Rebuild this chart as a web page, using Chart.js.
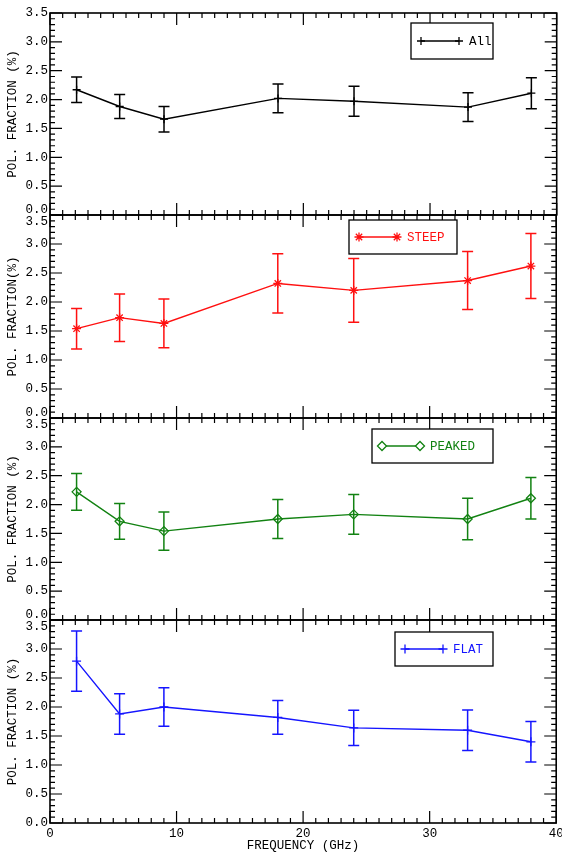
<!DOCTYPE html>
<html>
<head>
<meta charset="utf-8">
<script src="https://cdn.jsdelivr.net/npm/chart.js@4.4.1/dist/chart.umd.min.js"></script>
<style>
  html, body { margin: 0; padding: 0; background: #ffffff; }
  #wrap { position: relative; width: 562px; height: 853px; background: #ffffff; }
  #wrap canvas { position: absolute; left: 0; top: 0; }
</style>
</head>
<body>
<div id="wrap">
  <canvas id="c0" width="562" height="853"></canvas>
  <canvas id="c1" width="562" height="853"></canvas>
  <canvas id="c2" width="562" height="853"></canvas>
  <canvas id="c3" width="562" height="853"></canvas>
</div>
<script>
// ---- data ----
const frequencies = [2.1, 5.5, 9, 18, 24, 33, 38];
const seriesNames = ["All", "STEEP", "PEAKED", "FLAT"];
const allValues    = [2.17, 1.88, 1.66, 2.02, 1.97, 1.87, 2.11];
const allErrors    = [0.22, 0.21, 0.22, 0.25, 0.26, 0.25, 0.27];
const steepValues  = [1.54, 1.73, 1.63, 2.32, 2.20, 2.37, 2.62];
const steepErrors  = [0.35, 0.41, 0.42, 0.51, 0.55, 0.50, 0.56];
const peakedValues = [2.22, 1.71, 1.54, 1.75, 1.83, 1.75, 2.11];
const peakedErrors = [0.32, 0.31, 0.33, 0.34, 0.345, 0.36, 0.36];
const flatValues   = [2.79, 1.88, 2.00, 1.82, 1.64, 1.60, 1.40];
const flatErrors   = [0.52, 0.35, 0.33, 0.29, 0.305, 0.35, 0.35];
const yTickLabels = ["0.0", "0.5", "1.0", "1.5", "2.0", "2.5", "3.0", "3.5"];
const xTickLabels = ["0", "10", "20", "30", "40"];
const yTitles = ["POL. FRACTION (%)", "POL. FRACTION(%)", "POL. FRACTION (%)", "POL. FRACTION (%)"];
const xTitle = "FREQUENCY (GHz)";

// ---- styles / layout ----
const FONT = "'Liberation Mono', 'DejaVu Sans Mono', monospace";
const colors = ["#000000", "#ff1010", "#128212", "#1515ff"];
const markers = ["cross", "star", "rectRot", "cross"];
const markerRadius = [4, 4.5, 4.5, 4.5];
const panelTops = [13, 215, 418, 620];
const panelBottoms = [215, 418, 620, 823];
const legendBoxes = [ // [left, top, right, bottom] in page px
  [411, 23, 493, 59],
  [349, 220, 457, 254],
  [372, 429, 493, 463],
  [395, 632, 493, 666]
];
const valuesList = [allValues, steepValues, peakedValues, flatValues];
const errorsList = [allErrors, steepErrors, peakedErrors, flatErrors];

function drawMarker(ctx, style, x, y, r) {
  Chart.helpers.drawPoint(ctx, {pointStyle: style, radius: r, borderWidth: 1.3, rotation: 0}, x, y);
}

const framePlugin = {
  id: 'frameTicks',
  afterDatasetsDraw(chart, args, opts) {
    const {ctx, chartArea: a, scales: {x, y}} = chart;
    const idx = opts.idx;
    const ds = chart.data.datasets[0];
    const errs = errorsList[idx];
    const col = colors[idx];
    ctx.save();
    // error bars
    ctx.strokeStyle = col;
    ctx.lineWidth = 1.5;
    ds.data.forEach((p, i) => {
      const px = x.getPixelForValue(p.x);
      const yt = y.getPixelForValue(p.y + errs[i]);
      const yb = y.getPixelForValue(p.y - errs[i]);
      ctx.beginPath();
      ctx.moveTo(px, yt); ctx.lineTo(px, yb);
      ctx.moveTo(px - 5.5, yt); ctx.lineTo(px + 5.5, yt);
      ctx.moveTo(px - 5.5, yb); ctx.lineTo(px + 5.5, yb);
      ctx.stroke();
    });
    // ticks (inward) on all sides
    ctx.strokeStyle = '#000';
    ctx.lineWidth = 1.2;
    ctx.beginPath();
    for (let v = 0; v <= 40; v += 1) {
      const px = x.getPixelForValue(v);
      const len = (v % 10 === 0) ? 12 : 5;
      ctx.moveTo(px, a.bottom); ctx.lineTo(px, a.bottom - len);
      ctx.moveTo(px, a.top); ctx.lineTo(px, a.top + len);
    }
    for (let k = 0; k <= 35; k += 1) {
      const py = y.getPixelForValue(k / 10);
      const len = (k % 5 === 0) ? 12 : 5;
      ctx.moveTo(a.left, py); ctx.lineTo(a.left + len, py);
      ctx.moveTo(a.right, py); ctx.lineTo(a.right - len, py);
    }
    ctx.stroke();
    // frame
    ctx.lineWidth = 1.6;
    ctx.strokeRect(a.left, a.top, a.right - a.left, a.bottom - a.top);
    // legend
    const b = legendBoxes[idx];
    ctx.fillStyle = '#fff';
    ctx.fillRect(b[0], b[1], b[2] - b[0], b[3] - b[1]);
    ctx.strokeStyle = '#000';
    ctx.lineWidth = 1.3;
    ctx.strokeRect(b[0], b[1], b[2] - b[0], b[3] - b[1]);
    const cy = (b[1] + b[3]) / 2;
    const lx1 = b[0] + 10, lx2 = b[0] + 48;
    ctx.strokeStyle = col;
    ctx.lineWidth = 1.3;
    ctx.beginPath(); ctx.moveTo(lx1, cy); ctx.lineTo(lx2, cy); ctx.stroke();
    drawMarker(ctx, markers[idx], lx1, cy, markerRadius[idx]);
    drawMarker(ctx, markers[idx], lx2, cy, markerRadius[idx]);
    ctx.fillStyle = col;
    ctx.font = "12.5px " + FONT;
    ctx.textBaseline = 'middle';
    ctx.textAlign = 'left';
    ctx.fillText(seriesNames[idx], b[0] + 58, cy + 1);
    ctx.restore();
  }
};

function makePanel(idx) {
  const isBottom = idx === 3;
  const data = frequencies.map((f, i) => ({x: f, y: valuesList[idx][i]}));
  new Chart(document.getElementById('c' + idx), {
    type: 'line',
    data: {
      datasets: [{
        label: seriesNames[idx],
        data: data,
        borderColor: colors[idx],
        backgroundColor: 'rgba(0,0,0,0)',
        borderWidth: 1.4,
        pointStyle: markers[idx],
        pointRadius: markerRadius[idx],
        pointBorderColor: colors[idx],
        pointBackgroundColor: 'rgba(0,0,0,0)',
        pointBorderWidth: 1.3,
        tension: 0,
        fill: false
      }]
    },
    options: {
      responsive: false,
      animation: false,
      events: [],
      layout: {
        padding: {
          left: 0,
          right: 5,
          top: panelTops[idx],
          bottom: isBottom ? 0 : 853 - panelBottoms[idx]
        }
      },
      plugins: {
        legend: {display: false},
        tooltip: {enabled: false},
        frameTicks: {idx: idx}
      },
      scales: {
        x: {
          type: 'linear',
          min: 0, max: 40,
          grid: {display: false, drawTicks: false},
          border: {display: false},
          ticks: {
            display: isBottom,
            autoSkip: false,
            stepSize: 10,
            padding: 3,
            color: '#000',
            font: {family: FONT, size: 12.5},
            maxRotation: 0,
            callback: (v) => xTickLabels[Math.round(v / 10)]
          },
          title: {
            display: isBottom,
            text: xTitle,
            color: '#000',
            font: {family: FONT, size: 12.5},
            padding: {top: 0, bottom: 0}
          },
          afterFit: (s) => {
            s.height = isBottom ? 30 : 0;
            s.paddingLeft = 0; s.paddingRight = 0;
          }
        },
        y: {
          type: 'linear',
          min: 0, max: 3.5,
          grid: {display: false, drawTicks: false},
          border: {display: false},
          ticks: {
            autoSkip: false,
            stepSize: 0.5,
            padding: 2,
            color: '#000',
            font: (ctx) => {
              const v = ctx.tick ? ctx.tick.value : null;
              let lh = 1.2;
              if (v === 0 && !isBottom) lh = 10 / 12.5;
              if (v === 3.5 && idx > 0) lh = 14 / 12.5;
              return {family: FONT, size: 12.5, lineHeight: lh};
            },
            callback: (v) => {
              const lab = yTickLabels[Math.round(v * 2)];
              if (v === 0 && !isBottom) return [lab, ''];
              if (v === 3.5 && idx > 0) return ['', lab];
              return lab;
            }
          },
          title: {
            display: true,
            text: yTitles[idx],
            color: '#000',
            font: {family: FONT, size: 12.5},
            padding: {top: 5, bottom: 0}
          },
          afterFit: (s) => { s.width = 50; s.paddingTop = 0; s.paddingBottom = 0; }
        }
      }
    },
    plugins: [framePlugin]
  });
}

[0, 1, 2, 3].forEach(makePanel);
</script>
</body>
</html>
